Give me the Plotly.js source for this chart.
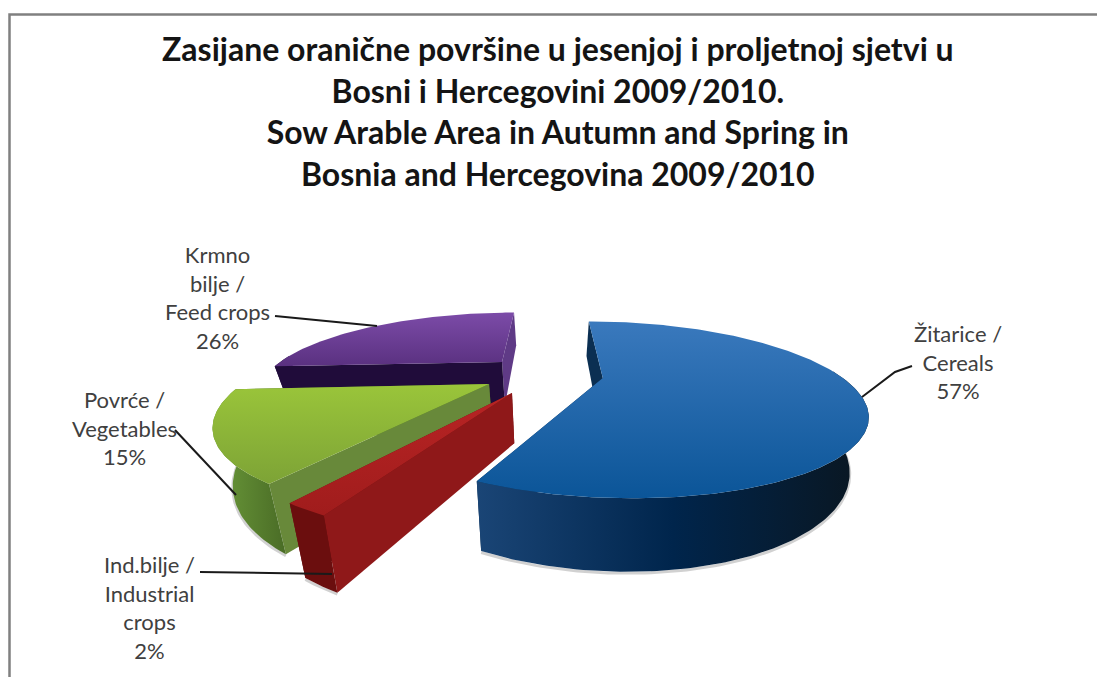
<!DOCTYPE html>
<html>
<head>
<meta charset="utf-8">
<script src="https://cdn.plot.ly/plotly-3.0.1.min.js"></script>
<style>html,body{margin:0;padding:0;background:#fff}#chart{width:1097px;height:677px}</style>
</head>
<body>
<div id="chart"></div>
<script>
// ---- data ----
const categories = ["Žitarice / Cereals", "Ind.bilje / Industrial crops", "Povrće / Vegetables", "Krmno bilje / Feed crops"];
const shares = [57, 2, 15, 26];
const labelLines = [
  ["Žitarice /", "Cereals"],
  ["Ind.bilje /", "Industrial", "crops"],
  ["Povrće /", "Vegetables"],
  ["Krmno", "bilje /", "Feed crops"]
];
const titleLines = [
  "Zasijane oranične površine u jesenjoj i proljetnoj sjetvi u",
  "Bosni i Hercegovini 2009/2010.",
  "Sow Arable Area in Autumn and Spring in",
  "Bosnia and Hercegovina 2009/2010"
];

// ---- view of the tilted, exploded pie ----
const view = {cx: 550, cy: 378, a: 240, b: 77, p: 0.36, depth: 47, taper: 0.94};
const explode = [[0.22, 0], [-0.148, -0.182], [-0.247, -0.076], [-0.216, 0.225]];
const looks = [
  {top: ["#0b5598", "#3a79bd"], outer: ["#1a4576", "#00254c", "#0a1620"], start: "#0b2f52", end: "#0b2f52"},
  {top: ["#a01c1c", "#b82424"], outer: ["#6b0e0e", "#6b0e0e"], start: "#8f1819", end: "#6b0e0e"},
  {top: ["#7da336", "#9ac53a"], outer: ["#6b9a3a", "#4a6c26"], start: "#68893a", end: "#4a6c26"},
  {top: ["#5a3180", "#7c4ba8"], outer: ["#200c3a", "#200c3a"], start: "#200c3a", end: "#5f3a86"}
];
const labelBoxes = [[958, 362], [149, 607], [124, 428], [217, 297]];
const leaders = [
  [[862, 397], [895, 372], [912, 366]],
  [[200, 572], [332, 574]],
  [[175, 430], [236, 495]],
  [[275, 316], [377, 326]]
];

// ---- projection ----
function project(wx, wy) {
  const s = 1 / (1 + view.p * wy);
  return {x: view.cx + view.a * wx * s, y: view.cy - view.b * wy * s, s};
}
function down(pt) {
  return {x: view.cx + (pt.x - view.cx) * view.taper, y: pt.y + view.depth * pt.s};
}
function rim(i, deg) {
  const t = deg * Math.PI / 180;
  return project(explode[i][0] + Math.sin(t), explode[i][1] + Math.cos(t));
}
function scaleOf(cols) {
  return cols.map((c, k) => [k / (cols.length - 1), c]);
}
function poly(pts, cols, type) {
  const closed = pts.concat([pts[0]]);
  const tr = {
    x: closed.map(p => p.x), y: closed.map(p => p.y),
    type: "scatter", mode: "lines", fill: "toself",
    line: {width: 0}, hoverinfo: "skip", showlegend: false
  };
  if (cols.length === 1) tr.fillcolor = cols[0];
  else tr.fillgradient = {type: type, colorscale: scaleOf(cols)};
  return tr;
}

// ---- slices, drawn back to front ----
const total = shares.reduce((a, b) => a + b, 0);
const starts = [];
shares.reduce((acc, v, i) => { starts[i] = acc; return acc + v; }, 0);
const traces = [];

function drawSlice(i) {
  const a0 = starts[i] / total * 360, a1 = (starts[i] + shares[i]) / total * 360;
  const apex = project(explode[i][0], explode[i][1]);
  const arc = [];
  const n = Math.max(6, Math.round(a1 - a0));
  for (let k = 0; k <= n; k++) arc.push(rim(i, a0 + (a1 - a0) * k / n));
  const front = arc.filter((_, k) => Math.cos((a0 + (a1 - a0) * k / n) * Math.PI / 180) < 0.1);
  const L = looks[i];
  // soft ground shadow
  if (front.length > 1) {
    const sh = front.map(down);
    traces.push({x: sh.map(p => p.x), y: sh.map(p => p.y + 1.5), type: "scatter", mode: "lines",
      line: {color: "rgba(0,0,0,0.18)", width: 3}, hoverinfo: "skip", showlegend: false});
  }
  // flat cut faces: the hidden one goes first
  const first = arc[0], last = arc[arc.length - 1];
  traces.push(poly([last, apex, down(apex), down(last)], [L.end]));
  traces.push(poly([first, apex, down(apex), down(first)], [L.start]));
  // outer curved wall
  if (front.length > 1) {
    traces.push(poly(front.concat(front.map(down).reverse()), L.outer, "horizontal"));
  }
  // top face
  traces.push(poly([apex].concat(arc), L.top, "vertical"));
}
[3, 2, 1, 0].forEach(drawSlice);

// ---- labels and leader lines ----
const annotations = categories.map((c, i) => ({
  xref: "x", yref: "y", x: labelBoxes[i][0], y: labelBoxes[i][1],
  text: labelLines[i].concat([shares[i] + "%"]).join("<br>"),
  showarrow: false, align: "center", xanchor: "center", yanchor: "middle",
  font: {family: "Lato, sans-serif", size: 22, color: "#404040"}
}));
const toPath = pts => pts.map((p, k) => (k ? "L" : "M") + p[0] + "," + p[1]).join(" ");
const shapes = leaders.map(pts => ({
  type: "path", xref: "x", yref: "y", path: toPath(pts),
  line: {color: "#1a1a1a", width: 2}
}));
// picture frame
shapes.push({type: "path", xref: "x", yref: "y", path: "M9.5,677 L9.5,14.5 L1097,14.5",
  line: {color: "#808080", width: 2.5}});

Plotly.newPlot("chart", traces, {
  width: 1097, height: 677,
  margin: {l: 0, r: 0, t: 0, b: 0},
  paper_bgcolor: "#fff", plot_bgcolor: "#fff",
  showlegend: false,
  title: {
    text: titleLines.join("<br>"),
    x: 0.5085, xanchor: "center", y: 0.91, yanchor: "top",
    font: {family: "Lato, sans-serif", size: 32, color: "#141414", weight: 700}
  },
  xaxis: {range: [0, 1097], visible: false, fixedrange: true},
  yaxis: {range: [677, 0], visible: false, fixedrange: true},
  annotations, shapes
}, {displayModeBar: false, staticPlot: true});
</script>
</body>
</html>
